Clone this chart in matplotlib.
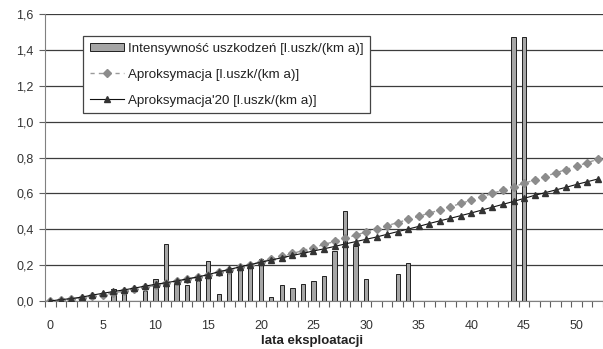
import matplotlib
matplotlib.use("Agg")
import matplotlib.pyplot as plt
from matplotlib.ticker import FixedLocator, FuncFormatter, NullFormatter

plt.rcParams['font.family'] = ['Liberation Sans', 'DejaVu Sans']

# years of operation (category axis)
years = list(range(0, 53))

# failure intensity [l.uszk/(km a)] per year
intensity = [0, 0, 0, 0, 0, 0, 0.065, 0.06, 0, 0.055,
             0.12, 0.32, 0.095, 0.09, 0.11, 0.225, 0.04, 0.16, 0.19, 0.20,
             0.235, 0.025, 0.09, 0.07, 0.093, 0.11, 0.138, 0.28, 0.50, 0.305,
             0.12, 0, 0, 0.148, 0.21, 0, 0, 0, 0, 0,
             0, 0, 0, 0, 1.47, 1.47, 0, 0, 0, 0,
             0, 0, 0]

# approximation
aprox = [0.0, 0.006, 0.012, 0.019, 0.027, 0.036, 0.045, 0.055, 0.065, 0.076,
         0.087, 0.098, 0.110, 0.122, 0.134, 0.147, 0.160, 0.174, 0.188, 0.203,
         0.218, 0.233, 0.249, 0.265, 0.281, 0.298, 0.315, 0.332, 0.350, 0.367,
         0.385, 0.402, 0.420, 0.437, 0.455, 0.472, 0.490, 0.507, 0.525, 0.544,
         0.562, 0.581, 0.600, 0.618, 0.637, 0.656, 0.675, 0.694, 0.714, 0.733,
         0.752, 0.771, 0.790]

# approximation '20
aprox20 = [0.0, 0.008, 0.013, 0.022, 0.033, 0.043, 0.053, 0.062, 0.072, 0.083,
           0.093, 0.102, 0.112, 0.123, 0.134, 0.147, 0.163, 0.176, 0.190, 0.203,
           0.216, 0.229, 0.241, 0.254, 0.266, 0.279, 0.291, 0.304, 0.318, 0.331,
           0.344, 0.357, 0.372, 0.387, 0.401, 0.416, 0.432, 0.447, 0.461, 0.476,
           0.491, 0.507, 0.523, 0.539, 0.555, 0.572, 0.589, 0.604, 0.619, 0.634,
           0.650, 0.665, 0.680]

y_ticks = [0.0, 0.2, 0.4, 0.6, 0.8, 1.0, 1.2, 1.4, 1.6]
x_labels = [0, 5, 10, 15, 20, 25, 30, 35, 40, 45, 50]

W, H = 603, 349
fig = plt.figure(figsize=(W / 100, H / 100), dpi=100)
ax = fig.add_axes([45 / W, 1 - 301 / H, 1 - 45 / W, (301 - 14) / H])

for y in y_ticks:
    ax.axhline(y, color='#3c3c3c', lw=0.9, zorder=1)

bars = ax.bar(years, intensity, width=0.4, color='#a6a6a6', edgecolor='#202020',
              linewidth=0.7, zorder=2, label='Intensywność uszkodzeń [l.uszk/(km a)]')
l1, = ax.plot(years, aprox, linestyle=(0, (3, 3)), color='#9a9a9a', lw=1.0,
              marker='D', markersize=3.8, markerfacecolor='#8c8c8c',
              markeredgecolor='#8c8c8c', zorder=3,
              label='Aproksymacja [l.uszk/(km a)]')
l2, = ax.plot(years, aprox20, linestyle='-', color='#111111', lw=0.8,
              marker='^', markersize=5, markerfacecolor='#333333',
              markeredgecolor='#333333', zorder=4,
              label="Aproksymacja'20 [l.uszk/(km a)]")

ax.set_xlim(-0.5, 52.5)
ax.set_ylim(0, 1.6)

for side in ('top', 'right'):
    ax.spines[side].set_visible(False)
ax.spines['left'].set_color('#808080')
ax.spines['bottom'].set_color('#808080')
ax.spines['left'].set_zorder(5)

ax.set_yticks(y_ticks)
ax.yaxis.set_major_formatter(FuncFormatter(lambda v, p: f"{v:.1f}".replace('.', ',')))
ax.tick_params(axis='y', length=4, width=0.8, color='#606060',
               labelsize=9, labelcolor='#333333', pad=4)

# labels at category centres, tick marks between categories
ax.xaxis.set_major_locator(FixedLocator(x_labels))
ax.tick_params(axis='x', which='major', length=0, labelsize=9,
               labelcolor='#333333', pad=14)
ax.xaxis.set_minor_locator(FixedLocator([k - 0.5 for k in range(0, 54)]))
ax.xaxis.set_minor_formatter(NullFormatter())
ax.tick_params(axis='x', which='minor', length=4, width=0.8, color='#606060')

fig.text(312 / W, 1 - 341 / H, 'lata eksploatacji', fontsize=9.5,
         fontweight='bold', color='#222222', ha='center', va='center')

leg = ax.legend(handles=[bars, l1, l2],
                loc='upper left', bbox_to_anchor=((83 - 45) / 558, (301 - 36) / 287),
                frameon=True, fancybox=False, shadow=False, fontsize=9.6,
                handlelength=2.6, handleheight=0.55, handletextpad=0.25,
                borderpad=0.5, labelspacing=1.05, borderaxespad=0,
                labelcolor='#222222')
leg.get_frame().set_edgecolor('#444444')
leg.get_frame().set_linewidth(0.9)
leg.get_frame().set_facecolor('white')
leg.get_frame().set_alpha(1)
leg.set_zorder(10)

fig.savefig('out.png', dpi=100)
